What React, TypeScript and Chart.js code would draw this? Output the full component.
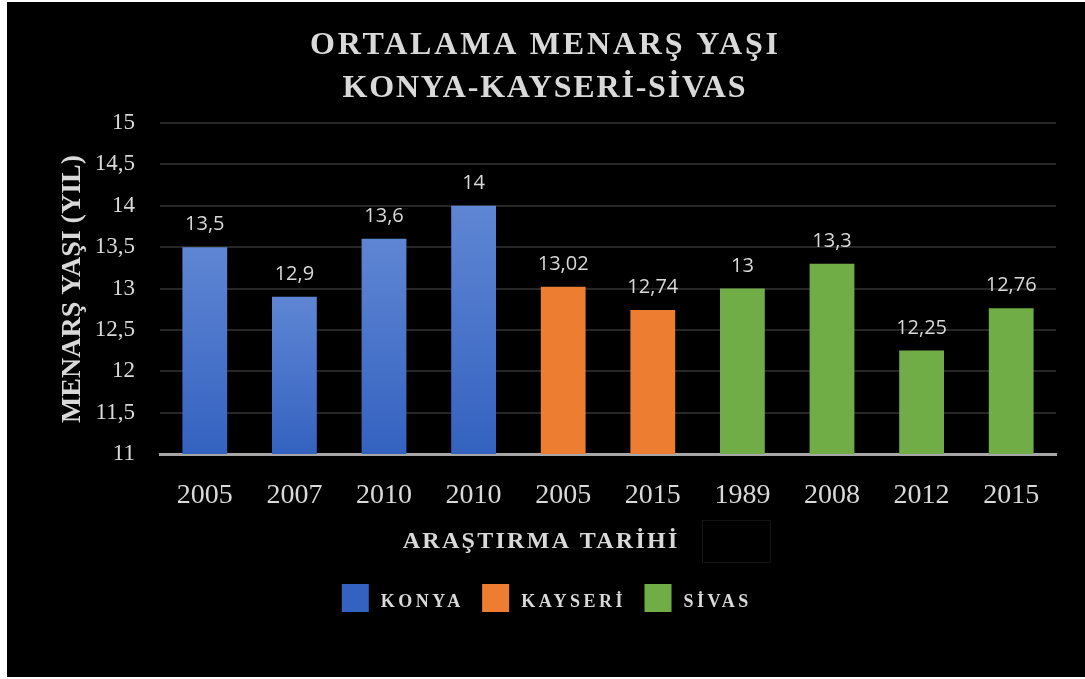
import React, { useEffect, useRef } from "react";
import { Chart, registerables } from "chart.js";

Chart.register(...registerables);

const titleLines = ["ORTALAMA MENARŞ YAŞI", "KONYA-KAYSERİ-SİVAS"];
const xAxisTitle = "ARAŞTIRMA TARİHİ";
const yAxisTitle = "MENARŞ YAŞI (YIL)";

const konyaYears = ["2005", "2007", "2010", "2010"];
const konyaValues = [13.5, 12.9, 13.6, 14];
const kayseriYears = ["2005", "2015"];
const kayseriValues = [13.02, 12.74];
const sivasYears = ["1989", "2008", "2012", "2015"];
const sivasValues = [13, 13.3, 12.25, 12.76];

const seriesNames = ["KONYA", "KAYSERİ", "SİVAS"];
const yMin = 11;
const yMax = 15;
const yStep = 0.5;

const SERIF = "'Liberation Serif', 'Times New Roman', serif";
const SANS = "'Open Sans', 'Noto Sans', sans-serif";
const TEXT = "#d9d9d9";
const BLUE_TOP = "#5f86d4";
const BLUE_BOTTOM = "#3462c0";
const ORANGE = "#ED7D31";
const GREEN = "#70AD47";

const fmt = (v: number) => String(v).replace(".", ",");

export default function App() {
  const ref = useRef<HTMLCanvasElement | null>(null);

  useEffect(() => {
    const canvas = ref.current;
    if (!canvas) return;

    const labels = [...konyaYears, ...kayseriYears, ...sivasYears];
    const n = labels.length;
    const pad = (vals: number[], start: number) =>
      Array.from({ length: n }, (_, i) =>
        i >= start && i < start + vals.length ? vals[i - start] : null
      );

    const konyaData = pad(konyaValues, 0);
    const kayseriData = pad(kayseriValues, konyaValues.length);
    const sivasData = pad(sivasValues, konyaValues.length + kayseriValues.length);

    const blueGradient = (c: any) => {
      const chart = c.chart;
      const { ctx, chartArea, scales } = chart;
      if (!chartArea || !scales || !scales.y || c.raw == null) return BLUE_BOTTOM;
      const top = scales.y.getPixelForValue(c.raw);
      const bottom = scales.y.getPixelForValue(scales.y.min);
      if (!isFinite(top) || !isFinite(bottom) || top === bottom) return BLUE_BOTTOM;
      const g = ctx.createLinearGradient(0, top, 0, bottom);
      g.addColorStop(0, BLUE_TOP);
      g.addColorStop(1, BLUE_BOTTOM);
      return g;
    };

    const spacedText = (
      ctx: CanvasRenderingContext2D,
      text: string,
      x: number,
      y: number,
      spacing: number,
      align: "center" | "left"
    ) => {
      (ctx as any).letterSpacing = spacing + "px";
      const w = ctx.measureText(text).width - spacing;
      const sx = align === "center" ? x - w / 2 : x;
      ctx.textAlign = "left";
      ctx.fillText(text, sx, y);
      (ctx as any).letterSpacing = "0px";
      return w;
    };

    const decorPlugin = {
      id: "decor",
      afterDatasetsDraw(chart: any) {
        const ctx: CanvasRenderingContext2D = chart.ctx;
        ctx.save();
        ctx.font = `20px ${SANS}`;
        ctx.fillStyle = TEXT;
        ctx.textAlign = "center";
        ctx.textBaseline = "alphabetic";
        chart.data.datasets.forEach((ds: any, di: number) => {
          const meta = chart.getDatasetMeta(di);
          meta.data.forEach((el: any, i: number) => {
            const v = ds.data[i];
            if (v == null) return;
            ctx.fillText(fmt(v), el.x, el.y - 17);
          });
        });
        ctx.restore();
      },
      afterDraw(chart: any) {
        const ctx: CanvasRenderingContext2D = chart.ctx;
        const W = chart.width;
        ctx.save();
        ctx.fillStyle = TEXT;
        ctx.textBaseline = "alphabetic";

        // title
        ctx.font = `bold 32px ${SERIF}`;
        spacedText(ctx, titleLines[0], W / 2 - 2, 52, 2.8, "center");
        spacedText(ctx, titleLines[1], W / 2 - 2, 95, 1.8, "center");

        // x axis title
        ctx.font = `bold 24px ${SERIF}`;
        spacedText(ctx, xAxisTitle, 533, 546, 2.3, "center");

        // faint empty box beside the x axis title
        ctx.strokeStyle = "#141414";
        ctx.lineWidth = 1;
        ctx.strokeRect(695.5, 518.5, 68, 42);

        // y axis title
        ctx.save();
        ctx.translate(73, 287);
        ctx.rotate(-Math.PI / 2);
        ctx.font = `bold 28px ${SERIF}`;
        spacedText(ctx, yAxisTitle, 0, 0, 0, "center");
        ctx.restore();

        // legend
        const colors = [BLUE_BOTTOM, ORANGE, GREEN];
        const sq = 27;
        const gapSq = 12;
        const gapItem = 22;
        const sp = 3.5;
        ctx.font = `bold 18px ${SERIF}`;
        const widths = seriesNames.map((s) => {
          (ctx as any).letterSpacing = sp + "px";
          const w = ctx.measureText(s).width - sp;
          (ctx as any).letterSpacing = "0px";
          return w;
        });
        const total =
          widths.reduce((a, b) => a + b, 0) +
          seriesNames.length * (sq + gapSq) +
          (seriesNames.length - 1) * gapItem;
        let x = 538 - total / 2;
        seriesNames.forEach((s, i) => {
          ctx.fillStyle = colors[i];
          ctx.fillRect(x, 582, sq, 28);
          x += sq + gapSq;
          ctx.fillStyle = TEXT;
          spacedText(ctx, s, x, 605, sp, "left");
          x += widths[i] + gapItem;
        });
        ctx.restore();
      },
    };

    const chart = new Chart(canvas, {
      type: "bar",
      data: {
        labels,
        datasets: [
          { label: seriesNames[0], data: konyaData, backgroundColor: blueGradient },
          { label: seriesNames[1], data: kayseriData, backgroundColor: ORANGE },
          { label: seriesNames[2], data: sivasData, backgroundColor: GREEN },
        ],
      },
      options: {
        responsive: false,
        animation: false,
        maintainAspectRatio: false,
        layout: { padding: { top: 121, right: 29, left: 0, bottom: 0 } },
        datasets: {
          bar: {
            skipNull: true,
            categoryPercentage: 1,
            barPercentage: 0.5,
          },
        },
        plugins: {
          legend: { display: false },
          title: { display: false },
          tooltip: { enabled: false },
        },
        scales: {
          x: {
            afterFit: (s: any) => {
              s.height = 223;
            },
            grid: { display: false, drawTicks: false },
            border: { display: true, color: "#a6a6a6", width: 3 },
            ticks: {
              color: TEXT,
              font: { family: SERIF, size: 28 },
              padding: 25,
              maxRotation: 0,
              autoSkip: false,
            },
          },
          y: {
            min: yMin,
            max: yMax,
            afterFit: (s: any) => {
              s.width = 153;
            },
            grid: { color: "#262626", lineWidth: 2, drawTicks: false },
            border: { display: false },
            ticks: {
              stepSize: yStep,
              color: TEXT,
              font: { family: SERIF, size: 23 },
              padding: 25,
              callback: (v: any) => fmt(Number(v)),
            },
          },
        },
      },
      plugins: [decorPlugin],
    });

    return () => chart.destroy();
  }, []);

  return (
    <div
      style={{
        position: "fixed",
        left: 0,
        top: 0,
        width: 1085,
        height: 679,
        background: "#ffffff",
        overflow: "hidden",
      }}
    >
      <div
        style={{
          position: "absolute",
          left: 7,
          top: 2,
          width: 1078,
          height: 675,
          background: "#000000",
        }}
      >
        <canvas
          ref={ref}
          width={1078}
          height={675}
          style={{ display: "block", width: 1078, height: 675 }}
        />
      </div>
    </div>
  );
}
